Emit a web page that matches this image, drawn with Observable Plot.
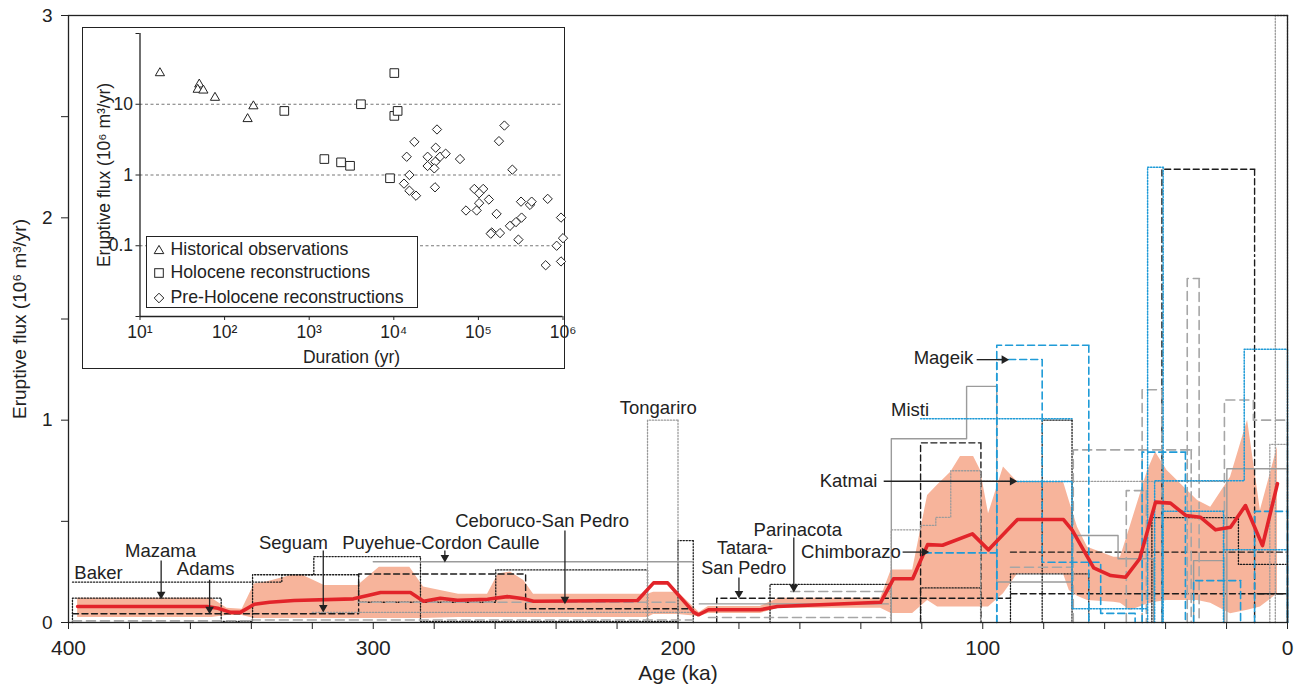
<!DOCTYPE html>
<html><head><meta charset="utf-8">
<script src="https://cdn.jsdelivr.net/npm/d3@7"></script>
<script src="https://cdn.jsdelivr.net/npm/@observablehq/plot@0.6"></script>
<style>
body{margin:0;background:#fff;font-family:"Liberation Sans",Arial,Helvetica,sans-serif;color:#222;}
#wrap{position:relative;width:1298px;height:691px;overflow:hidden;}
#inset{position:absolute;left:82px;top:27px;width:481px;height:340px;border:1.5px solid #222;background:#fff;}
#legend{position:absolute;left:62.5px;top:208px;width:270px;height:70px;border:1.3px solid #222;background:#fff;font-size:17.7px;}
#legend .row{position:absolute;left:6px;height:22px;line-height:22px;white-space:nowrap;}
#legend svg{vertical-align:middle;margin-right:6px;}
</style></head><body>
<div id="wrap"><div id="main"></div><div id="inset"><div id="legend"></div></div></div>
<script>
// ---------- main chart data ----------
const xTicks = [400, 300, 200, 100, 0];
const yTicks = [0, 1, 2, 3];

// mean eruptive flux (red line)
const meanAge  = [397, 354.5, 351, 346.8, 343.6, 339, 334, 326, 306.5, 301.8, 297.6, 287.8, 283.5, 278, 272.4, 262.5, 256, 250.6, 247.4, 213.3, 208, 203.4, 194.9, 193.3, 190, 173, 167.4, 133.5, 129.3, 123, 118.1, 113.2, 103.4, 98.1, 88.6, 73.5, 70.6, 63.6, 58, 53.1, 48.5, 43.3, 38.4, 33.4, 28.5, 23.6, 18.7, 13.8, 8.2, 3.3];
const meanFlux = [0.079, 0.079, 0.07, 0.05, 0.05, 0.09, 0.1, 0.109, 0.117, 0.133, 0.148, 0.148, 0.105, 0.12, 0.11, 0.115, 0.128, 0.117, 0.105, 0.109, 0.196, 0.196, 0.051, 0.038, 0.063, 0.063, 0.079, 0.1, 0.216, 0.216, 0.385, 0.382, 0.438, 0.359, 0.509, 0.509, 0.455, 0.27, 0.232, 0.224, 0.315, 0.595, 0.59, 0.529, 0.52, 0.458, 0.471, 0.578, 0.38, 0.686];

// uncertainty envelope (salmon band)
const bandAge  = [397, 353, 348, 343, 339, 335, 327, 323, 316, 305, 298, 288, 283.5, 272, 262.5, 259, 255, 250.6, 247.4, 210, 208, 200, 193, 190, 173, 167, 133.5, 130, 123, 118.1, 114.8, 110.5, 107.3, 103, 100.7, 98.1, 93.2, 88.6, 73.5, 71.6, 68.9, 65.6, 57, 54.8, 51.5, 45.9, 43.3, 39.5, 29.5, 25.2, 18.7, 13.1, 8.9, 3.3];
const bandLow  = [0.025, 0.025, 0.035, 0.035, 0.02, 0.02, 0.02, 0.02, 0.02, 0.02, 0.02, 0.02, 0.02, 0.025, 0.025, 0.025, 0.025, 0.025, 0.025, 0.025, 0.04, 0.04, 0.03, 0.045, 0.045, 0.07, 0.07, 0.045, 0.045, 0.109, 0.076, 0.076, 0.076, 0.076, 0.076, 0.076, 0.142, 0.24, 0.24, 0.158, 0.13, 0.109, 0.1, 0.095, 0.059, 0.092, 0.1, 0.109, 0.109, 0.095, 0.043, 0.06, 0.076, 0.142];
const bandHigh = [0.12, 0.12, 0.07, 0.065, 0.19, 0.2, 0.232, 0.232, 0.183, 0.183, 0.273, 0.273, 0.175, 0.14, 0.14, 0.24, 0.249, 0.208, 0.14, 0.14, 0.15, 0.15, 0.05, 0.079, 0.079, 0.12, 0.12, 0.26, 0.26, 0.628, 0.68, 0.743, 0.82, 0.82, 0.751, 0.537, 0.768, 0.694, 0.694, 0.6, 0.471, 0.372, 0.323, 0.323, 0.48, 0.75, 0.842, 0.751, 0.603, 0.57, 0.718, 1.0, 0.554, 0.867];

// individual volcano flux histories: t = ages of change (ka), f = flux in each interval
const blackDotted = [
  {t:[398.7, 330, 319.5, 284.5, 200], f:[0.2, 0.236, 0.326, 0.006], base:false},
  {t:[398.7, 349.9, 339.6, 304.8, 259.8, 210], f:[0.12, 0.006, 0.236, 0.1, 0.26], base:true},
  {t:[200, 195], f:[0.405], base:true},
  {t:[169.8, 130], f:[0.188], base:true},
  {t:[120.4, 100.7], f:[0.171], base:true},
  {t:[90.9, 65.2], f:[0.24], base:true},
  {t:[80.5, 70.7], f:[1.0], base:true},
  {t:[44.5, 16.1, 0], f:[0.518, 0.287], base:true}
];
const blackDashed = [
  {t:[398.7, 304.8, 250, 196], f:[0.043, 0.24, 0.068], base:false},
  {t:[187.3, 90.9, 0], f:[0.12, 0.142], base:true},
  {t:[90.9, 0], f:[0.348], base:false},
  {t:[120.4, 100.6], f:[0.888], base:true},
  {t:[41.2, 10.8], f:[2.24], base:true}
];
const blackSolid = [
  {t:[10, 0], f:[0.142], base:false}
];
const graySolid = [
  {t:[300, 195], f:[0.3], base:false},
  {t:[193, 131], f:[0.092], base:false},
  {t:[130, 105.3, 95.4, 70.7, 55.6, 43.9], f:[0.908, 1.167, 0.2, 0.43, 0.315], base:true},
  {t:[30.8, 20.7], f:[0.306], base:true},
  {t:[19.9, 0], f:[0.76], base:true}
];
const grayDashed = [
  {t:[398.7, 340], f:[0.008], base:false},
  {t:[340, 195], f:[0.012], base:false},
  {t:[305, 200], f:[0.1], base:false},
  {t:[190, 130], f:[0.025], base:false},
  {t:[163, 130], f:[0.153], base:false},
  {t:[90.9, 70.3], f:[0.273], base:false},
  {t:[70.3, 31.6], f:[0.853], base:true},
  {t:[52.9, 46.3], f:[0.652], base:true},
  {t:[47.7, 41.2], f:[1.15], base:true},
  {t:[32.9, 29], f:[1.7], base:true},
  {t:[20.7, 11.2, 0], f:[1.1, 1.0], base:true}
];
const grayDotted = [
  {t:[320, 195], f:[0.05], base:false},
  {t:[210, 200], f:[1.0], base:true},
  {t:[130, 120.4, 115.4, 110.5, 100.7], f:[0.458, 0.48, 0.52, 0.75], base:true},
  {t:[100.7, 20], f:[0.697], base:false},
  {t:[5.8, 0], f:[0.88], base:true},
  {t:[4, 0], f:[3.0], base:true}
];
const blueDashed = [
  {t:[119.2, 95.7], f:[0.344], base:false},
  {t:[95.4, 65.2], f:[1.37], base:true},
  {t:[95.4, 80.5, 61.3, 50], f:[1.3, 0.298, 0.045], base:true},
  {t:[47.7, 33.5], f:[0.842], base:true},
  {t:[30.8, 15.4], f:[0.207], base:true},
  {t:[10.8, 0], f:[0.549], base:true}
];
const blueDotted = [
  {t:[120.4, 70.7], f:[1.007], base:false},
  {t:[88.6, 70.7, 45.9], f:[0.697, 0.068], base:false},
  {t:[45.9, 40.8], f:[2.25], base:true},
  {t:[43.6, 14.2, 0], f:[0.7, 1.35], base:true},
  {t:[41.1, 21], f:[0.55], base:true},
  {t:[21, 0], f:[0.359], base:false}
];

// annotation labels (age, flux) and arrows
const labelsMiddle = [
  {text:"Mazama", age:369.8, flux:0.351},
  {text:"Adams", age:355, flux:0.262},
  {text:"Seguam", age:326.2, flux:0.395},
  {text:"Puyehue-Cordon Caulle", age:277.8, flux:0.395},
  {text:"Ceboruco-San Pedro", age:244.6, flux:0.5},
  {text:"Tongariro", age:206.5, flux:1.062},
  {text:"Parinacota", age:160.7, flux:0.459}
];
const labelsTatara = [
  {text:"Tatara-", age:178.0, flux:0.366},
  {text:"San Pedro", age:178.4, flux:0.268}
];
const labelsStart = [
  {text:"Baker", age:398.1, flux:0.245},
  {text:"Misti", age:130.1, flux:1.048}
];
const labelsEnd = [
  {text:"Chimborazo", age:126.9, flux:0.348},
  {text:"Katmai", age:134.6, flux:0.698},
  {text:"Mageik", age:103.1, flux:1.308}
];
const arrowsDown = [
  {age:369.6, from:0.306, to:0.125},
  {age:353.7, from:0.211, to:0.051},
  {age:316.4, from:0.356, to:0.059},
  {age:276.5, from:0.356, to:0.306},
  {age:237.1, from:0.455, to:0.1},
  {age:180.0, from:0.222, to:0.128},
  {age:162.0, from:0.42, to:0.158}
];
const arrowsRight = [
  {flux:0.348, from:126.3, to:118.2},
  {flux:0.698, from:132.5, to:89.3},
  {flux:1.299, from:102.0, to:92.0}
];

// ---------- inset data ----------
const histDur  = [17.2, 50.2, 48.1, 56.1, 77, 219, 187];
const histFlux = [27.6, 19.1, 16.1, 15.7, 12.4, 9.4, 6.2];
const holoDur  = [10140, 508, 4090, 10140, 11100, 1510, 2380, 3040, 9020];
const holoFlux = [27.6, 8.05, 10, 6.85, 8.05, 1.68, 1.51, 1.35, 0.9];
const preDur  = [32400, 17500, 14200, 25100, 31300, 35200, 41000, 60600, 25100, 31000, 30100, 15300, 13200, 15300, 18300, 30700, 203000, 175000, 252000, 89500, 114000, 102000, 102000, 133000, 71300, 95300, 164000, 144000, 140000, 180000, 236000, 278000, 324000, 319000, 407000, 426000, 659000, 947000, 297000, 841000, 1000000, 624000, 947000];
const preFlux = [4.4, 2.94, 1.81, 1.81, 2.43, 1.81, 2.0, 1.68, 1.34, 1.54, 1.24, 1.0, 0.755, 0.6, 0.51, 0.67, 5.0, 3.01, 1.19, 0.635, 0.635, 0.552, 0.4, 0.45, 0.315, 0.315, 0.282, 0.154, 0.148, 0.151, 0.191, 0.216, 0.25, 0.42, 0.378, 0.42, 0.46, 0.25, 0.122, 0.1, 0.128, 0.053, 0.06];
const insetXTicks = [10, 100, 1000, 10000, 100000, 1000000];
const insetXLabels = ["10¹", "10²", "10³", "10⁴", "10⁵", "10⁶"];
const insetYTicks = [0.01, 0.1, 1, 10, 100];
const insetYLabels = ["", "0.1", "1", "10", ""];
const legendItems = ["Historical observations", "Holocene reconstructions", "Pre-Holocene reconstructions"];

// ---------- build ----------
const FONT = "Liberation Sans, Arial, Helvetica, sans-serif";
const INK = "#222";
const styles = {
  blackDotted: {stroke:"#1c1c1c", strokeDasharray:"1.3,1.7", strokeWidth:1.3},
  blackDashed: {stroke:"#1c1c1c", strokeDasharray:"6,3.5", strokeWidth:1.4},
  blackSolid:  {stroke:"#1c1c1c", strokeWidth:1.3},
  graySolid:   {stroke:"#9b9b9b", strokeWidth:1.4},
  grayDashed:  {stroke:"#a6a6a6", strokeDasharray:"9,5", strokeWidth:1.6},
  grayDotted:  {stroke:"#9b9b9b", strokeDasharray:"1.3,1.7", strokeWidth:1.3},
  blueDashed:  {stroke:"#1f9bd7", strokeDasharray:"7,4", strokeWidth:1.6},
  blueDotted:  {stroke:"#1f9bd7", strokeDasharray:"1.3,1.6", strokeWidth:1.5}
};
const groups = {blackDotted, blackDashed, blackSolid, graySolid, grayDashed, grayDotted, blueDashed, blueDotted};

function stepPts(s) {
  const pts = [];
  if (s.base) pts.push({age:s.t[0], flux:0});
  s.f.forEach((v, i) => pts.push({age:s.t[i], flux:v}));
  pts.push({age:s.t[s.t.length - 1], flux:s.f[s.f.length - 1]});
  if (s.base) pts.push({age:s.t[s.t.length - 1], flux:0});
  return pts;
}

const bandData = bandAge.map((a, i) => ({age:a, low:bandLow[i], high:bandHigh[i]}));
const meanData = meanAge.map((a, i) => ({age:a, flux:meanFlux[i]}));
const stepMarks = Object.entries(groups).flatMap(([k, list]) =>
  list.map(s => Plot.line(stepPts(s), {x:"age", y:"flux", curve:"step-after", ...styles[k]})));

const main = Plot.plot({
  width:1298, height:691,
  marginLeft:68, marginRight:11, marginTop:15, marginBottom:69,
  style:{fontFamily:FONT, fontSize:"21px", color:INK, background:"white", overflow:"visible"},
  x:{domain:[400, 0]},
  y:{domain:[0, 3]},
  marks:[
    Plot.areaY(bandData, {x:"age", y1:"low", y2:"high", fill:"#f7b49b"}),
    ...stepMarks,
    Plot.line(meanData, {x:"age", y:"flux", stroke:"#e2242a", strokeWidth:3.6, strokeLinejoin:"round"}),
    Plot.frame({stroke:INK, strokeWidth:1.3}),
    Plot.axisX({ticks:d3.range(0, 401, 20), tickFormat:d => xTicks.includes(d) ? String(d) : "", tickSize:7, tickPadding:11,
      label:"Age (ka)", labelAnchor:"center", labelArrow:"none", labelOffset:57, fontSize:21}),
    Plot.axisY({ticks:d3.range(0, 3.01, 0.5), tickFormat:d => yTicks.includes(d) ? String(d) : "", tickSize:7, tickPadding:9,
      label:"Eruptive flux (10⁶ m³/yr)", labelAnchor:"center", labelArrow:"none", labelOffset:56, fontSize:19}),
    Plot.text(labelsMiddle, {x:"age", y:"flux", text:"text", textAnchor:"middle", fontSize:18.5, fill:INK}),
    Plot.text(labelsTatara, {x:"age", y:"flux", text:"text", textAnchor:"middle", fontSize:18, fill:INK}),
    Plot.text(labelsStart, {x:"age", y:"flux", text:"text", textAnchor:"start", fontSize:18.5, fill:INK}),
    Plot.text(labelsEnd, {x:"age", y:"flux", text:"text", textAnchor:"end", fontSize:18.5, fill:INK}),
    Plot.link(arrowsDown, {x1:"age", x2:"age", y1:"from", y2:"to", stroke:INK, strokeWidth:1.3}),
    Plot.dot(arrowsDown, {x:"age", y:"to", symbol:"triangle", r:3.2, fill:INK, stroke:"none", rotate:180, dy:-3}),
    Plot.link(arrowsRight, {x1:"from", x2:"to", y1:"flux", y2:"flux", stroke:INK, strokeWidth:1.3}),
    Plot.dot(arrowsRight, {x:"to", y:"flux", symbol:"triangle", r:3.2, fill:INK, stroke:"none", rotate:90, dx:-3})
  ]
});
document.getElementById("main").appendChild(main);

// ---------- inset ----------
const hist = histDur.map((d, i) => ({d, f:histFlux[i]}));
const holo = holoDur.map((d, i) => ({d, f:holoFlux[i]}));
const pre  = preDur.map((d, i) => ({d, f:preFlux[i]}));

const inset = Plot.plot({
  width:481, height:340,
  marginLeft:56.5, marginRight:1.5, marginTop:5, marginBottom:52,
  style:{fontFamily:FONT, fontSize:"17.5px", color:INK, background:"white", overflow:"visible"},
  x:{type:"log", domain:[10, 1e6]},
  y:{type:"log", domain:[0.01, 100]},
  marks:[
    Plot.ruleY([0.1, 1, 10], {stroke:"#777", strokeDasharray:"3,2.5", strokeWidth:1}),
    Plot.ruleX([10], {stroke:INK, strokeWidth:1.3}),
    Plot.ruleY([0.01], {stroke:INK, strokeWidth:1.3}),
    Plot.dot(hist, {x:"d", y:"f", symbol:"triangle2", r:4.4, fill:"white", stroke:INK, strokeWidth:1}),
    Plot.dot(holo, {x:"d", y:"f", symbol:"square2", r:5.5, fill:"white", stroke:INK, strokeWidth:1}),
    Plot.dot(pre,  {x:"d", y:"f", symbol:"diamond2", r:4.2, fill:"white", stroke:INK, strokeWidth:1}),
    Plot.axisX({ticks:insetXTicks, tickFormat:d => insetXLabels[insetXTicks.indexOf(d)], tickSize:4, tickPadding:5,
      label:"Duration (yr)", labelAnchor:"center", labelArrow:"none", labelOffset:46, fontSize:17.5}),
    Plot.axisY({ticks:insetYTicks, tickFormat:d => insetYLabels[insetYTicks.indexOf(d)], tickSize:4, tickPadding:3,
      label:"Eruptive flux (10⁶ m³/yr)", labelAnchor:"center", labelArrow:"none", labelOffset:42, fontSize:17.5})
  ]
});
const insetDiv = document.getElementById("inset");
insetDiv.insertBefore(inset, insetDiv.firstChild);

// legend
const symSvg = [
  '<svg width="12" height="12" viewBox="-6 -6 12 12"><polygon points="0,-4.6 4.8,3.6 -4.8,3.6" fill="white" stroke="#222" stroke-width="1"/></svg>',
  '<svg width="12" height="12" viewBox="-6 -6 12 12"><rect x="-4.3" y="-4.3" width="8.6" height="8.6" fill="white" stroke="#222" stroke-width="1"/></svg>',
  '<svg width="12" height="12" viewBox="-6 -6 12 12"><polygon points="0,-4.8 4.8,0 0,4.8 -4.8,0" fill="white" stroke="#222" stroke-width="1"/></svg>'
];
const legend = document.getElementById("legend");
const rowTops = [0.5, 24, 49];
legendItems.forEach((txt, i) => {
  const r = document.createElement("div");
  r.className = "row";
  r.style.top = rowTops[i] + "px";
  r.innerHTML = symSvg[i] + '<span>' + txt + '</span>';
  legend.appendChild(r);
});
</script></body></html>
